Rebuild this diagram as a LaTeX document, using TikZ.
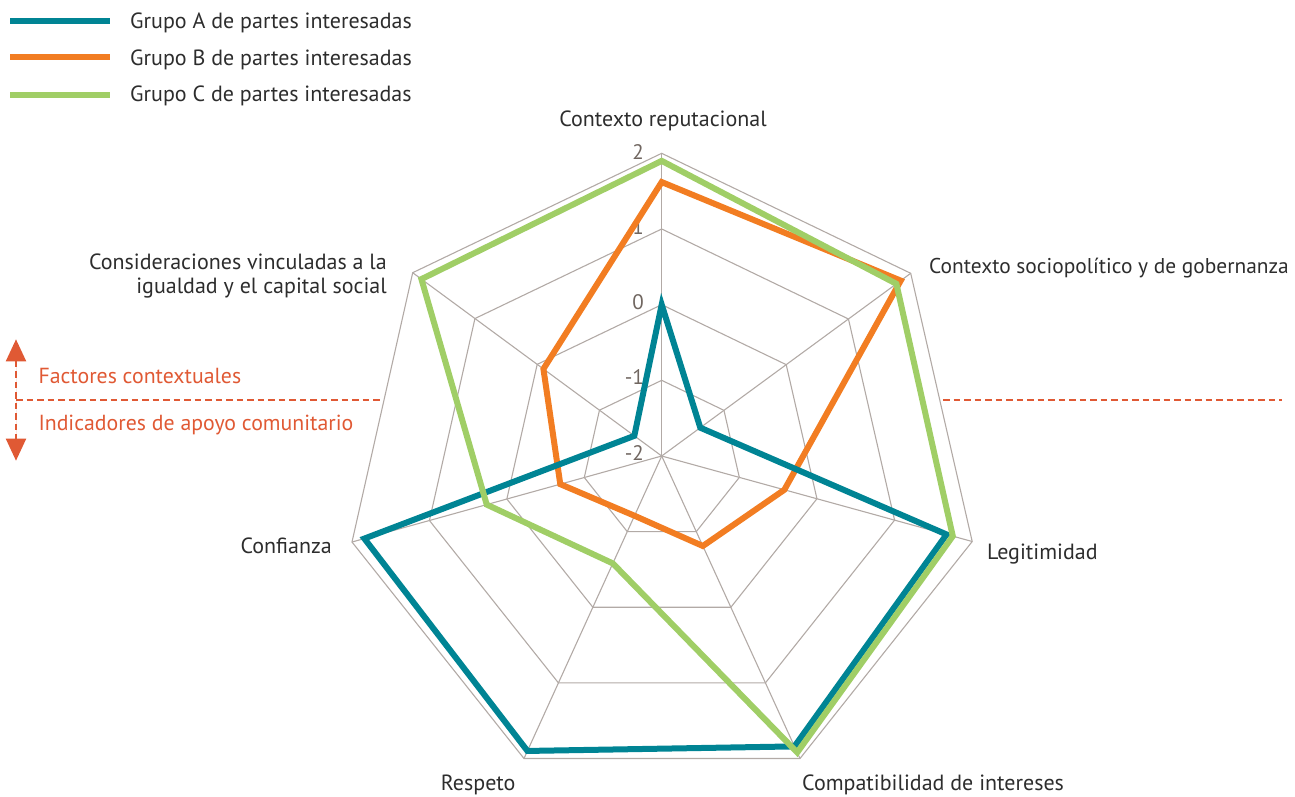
\documentclass[tikz,border=0pt]{standalone}
\usepackage{fontspec}
\setmainfont{PT Sans}
\usetikzlibrary{calc,arrows.meta}
\definecolor{grpA}{RGB}{0,132,148}
\definecolor{grpB}{RGB}{242,125,34}
\definecolor{grpC}{RGB}{160,206,102}
\definecolor{gridc}{RGB}{178,170,166}
\definecolor{annot}{RGB}{224,89,52}
\definecolor{txt}{RGB}{45,45,45}
\definecolor{numc}{RGB}{112,102,96}
\begin{document}
\begin{tikzpicture}[x=1pt,y=-1pt,
  gridline/.style={draw=gridc,line width=1.1pt},
  series/.style={line width=6pt,line join=miter},
  lbl/.style={text=txt,inner sep=0pt,font=\fontsize{22}{24}\selectfont},
  numlbl/.style={text=numc,inner sep=0pt,anchor=east,font=\fontsize{21}{22}\selectfont},
  annlbl/.style={text=annot,inner sep=0pt,anchor=base west,font=\fontsize{21.8}{24}\selectfont},
  annline/.style={draw=annot,line width=2pt,dash pattern=on 6.5pt off 4pt},
  legline/.style={line width=6pt}]
\useasboundingbox (0,0) rectangle (1295,796);
% geometry
\coordinate (C) at (661.7,456);
\coordinate (V0) at (661.7,153.3);
\coordinate (V1) at (910.7,273.3);
\coordinate (V2) at (972.2,541.5);
\coordinate (V3) at (800,758.5);
\coordinate (V4) at (524,758.5);
\coordinate (V5) at (352,542);
\coordinate (V6) at (412.7,272.7);
% rings
\foreach \f in {0.25,0.5,0.75,1}{
  \draw[gridline] ($(C)!\f!(V0)$) -- ($(C)!\f!(V1)$) -- ($(C)!\f!(V2)$) -- ($(C)!\f!(V3)$)
    -- ($(C)!\f!(V4)$) -- ($(C)!\f!(V5)$) -- ($(C)!\f!(V6)$) -- cycle;
}
% spokes
\foreach \k in {0,...,6}{ \draw[gridline] (C) -- (V\k); }
% scale numbers
\node[numlbl] (n2) at (644,151.7) {2};
\node[numlbl] (n1) at (644,226.7) {1};
\node[numlbl] (n0) at (644,301.7) {0};
\node[numlbl] (nm1) at (644,377) {-1};
\node[numlbl] (nm2) at (644,453) {-2};
% series
\draw[series,grpB] ($(C)!0.905!(V0)$) -- ($(C)!0.96!(V1)$) -- ($(C)!0.395!(V2)$) -- ($(C)!0.2975!(V3)$)
  -- ($(C)!0.1975!(V4)$) -- ($(C)!0.3275!(V5)$) -- ($(C)!0.475!(V6)$) -- cycle;
\draw[series,grpA] ($(C)!0.5!(V0)$) -- ($(C)!0.155!(V1)$) -- ($(C)!0.9175!(V2)$) -- ($(C)!0.96!(V3)$)
  -- ($(C)!0.975!(V4)$) -- ($(C)!0.96!(V5)$) -- ($(C)!0.11!(V6)$) -- cycle;
\draw[series,grpC] ($(C)!0.975!(V0)$) -- ($(C)!0.9425!(V1)$) -- ($(C)!0.9375!(V2)$) -- ($(C)!0.98!(V3)$)
  -- ($(C)!0.355!(V4)$) -- ($(C)!0.565!(V5)$) -- ($(C)!0.965!(V6)$) -- cycle;
% axis labels
\node[lbl,anchor=base] (l0) at (663,126) {Contexto reputacional};
\node[lbl,anchor=base west,font=\fontsize{21.4}{24}\selectfont] (l1) at (929,273) {Contexto sociopolítico y de gobernanza};
\node[lbl,anchor=base west] (l2) at (987,559.3) {Legitimidad};
\node[lbl,anchor=base west] (l3) at (802,790.5) {Compatibilidad de intereses};
\node[lbl,anchor=base west] (l4) at (440.7,790.5) {Respeto};
\node[lbl,anchor=base east] (l5) at (332,553.3) {Confianza};
\node[lbl,anchor=base east,align=right] (l6) at (387,293.3) {Consideraciones vinculadas a la\\igualdad y el capital social};
% legend
\coordinate (a1) at (10,21);   \coordinate (a2) at (110,21);
\coordinate (b1) at (10,57.3); \coordinate (b2) at (110,57.3);
\coordinate (c1) at (10,95);   \coordinate (c2) at (110,95);
\draw[legline,grpA] (a1) -- (a2);
\draw[legline,grpB] (b1) -- (b2);
\draw[legline,grpC] (c1) -- (c2);
\node[lbl,anchor=base west] (ta) at (130,28.3) {Grupo A de partes interesadas};
\node[lbl,anchor=base west] (tb) at (130,65) {Grupo B de partes interesadas};
\node[lbl,anchor=base west] (tc) at (130,101) {Grupo C de partes interesadas};
% annotation
\coordinate (h1) at (16,400); \coordinate (h2) at (383,400);
\coordinate (h3) at (943,400); \coordinate (h4) at (1282,400);
\coordinate (up) at (16,339.3); \coordinate (dn) at (16,460.7);
\draw[annline] (h1) -- (h2);
\draw[annline] (h3) -- (h4);
\draw[annline,{Triangle[width=20pt,length=22pt]}-{Triangle[width=20pt,length=22pt]},fill=annot] (up) -- (dn);
\node[annlbl] (fc) at (38.3,383.3) {Factores contextuales};
\node[annlbl] (ia) at (38.3,430.7) {Indicadores de apoyo comunitario};
\end{tikzpicture}
\end{document}
